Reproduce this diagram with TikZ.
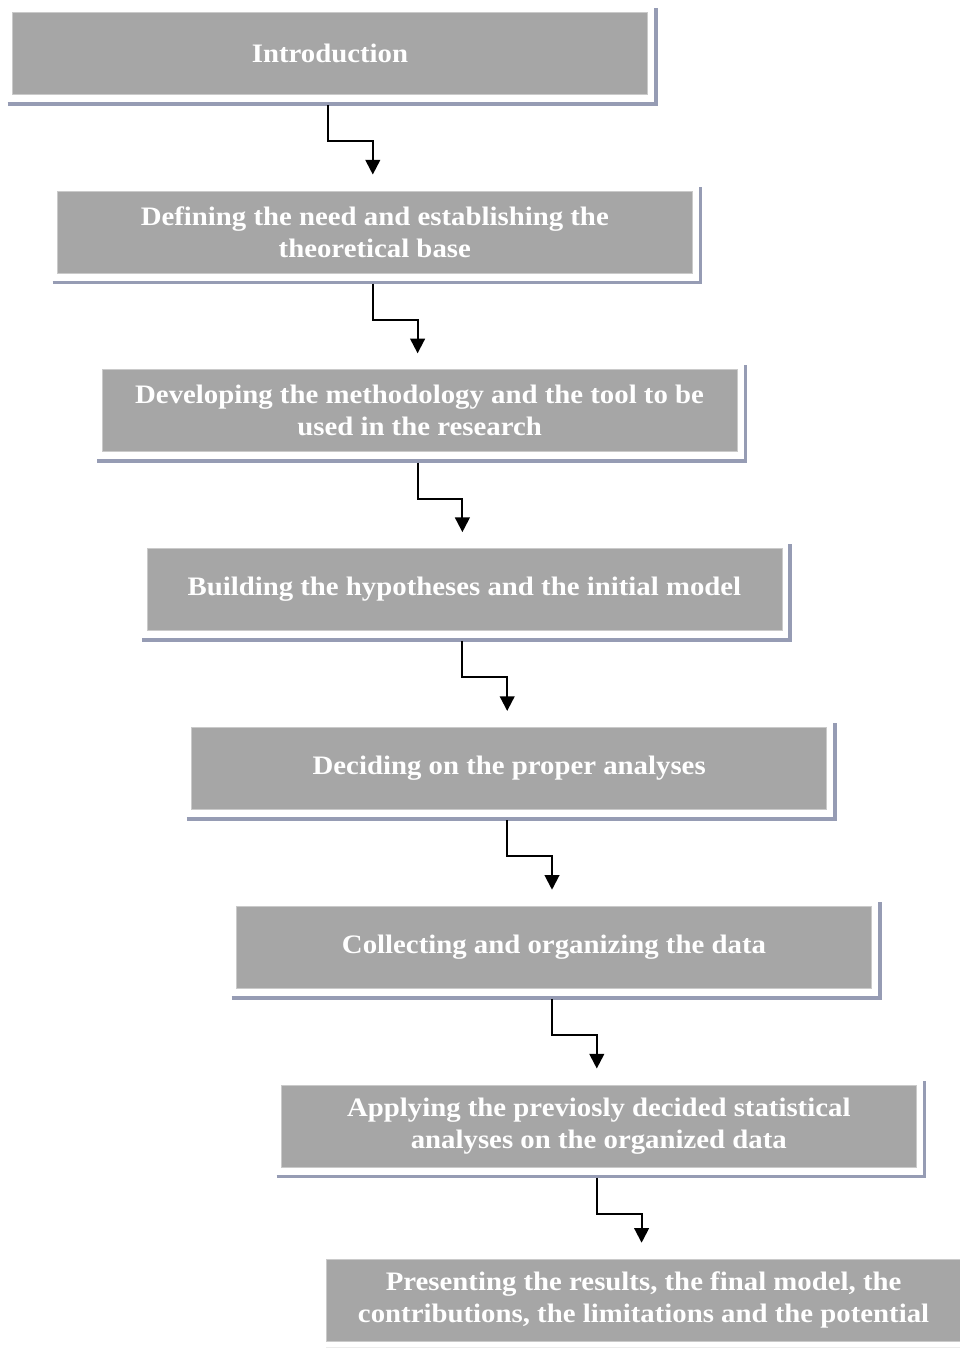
\documentclass[tikz,border=0pt]{standalone}
\usepackage{fontspec}
\setmainfont{Liberation Serif}[FakeStretch=1.08]
\usetikzlibrary{arrows.meta}
\definecolor{boxgray}{HTML}{A6A6A6}
\definecolor{shadowblue}{HTML}{969CB4}
\begin{document}
\begin{tikzpicture}[x=0.75pt,y=-0.75pt,
  stepbox/.style={fill=boxgray, draw=boxgray!60!white, line width=0.4pt,
    minimum width=476.25pt, minimum height=61.5pt, inner sep=0pt,
    align=center, text=white, font=\bfseries\fontsize{20}{24}\selectfont},
  shade/.style={draw=shadowblue, line width=2.8pt},
  link/.style={draw=black, line width=1.5pt,
    -{Triangle[width=11pt,length=11pt]}}]
\useasboundingbox (0,0) rectangle (960,1349);
\clip (0,0) rectangle (960,1349);

% steps of the research process
\node[stepbox] (s1) at (330,53)    {Introduction};
\node[stepbox] (s2) at (374.8,231.8)  {Defining the need and establishing the\\theoretical base};
\node[stepbox] (s3) at (419.6,410.6)  {Developing the methodology and the tool to be\\used in the research};
\node[stepbox] (s4) at (464.4,589.4)  {Building the hypotheses and the initial model};
\node[stepbox] (s5) at (509.2,768.2)  {Deciding on the proper analyses};
\node[stepbox] (s6) at (554,947)      {Collecting and organizing the data};
\node[stepbox] (s7) at (598.8,1125.8) {Applying the previosly decided statistical\\analyses on the organized data};
\node[stepbox] (s8) at (643.6,1300)   {Presenting the results, the final model, the\\contributions, the limitations and the potential};

% drop-shadow frames on the right and bottom of each box
\foreach \n in {s1,s2,s3,s4,s5,s6,s7}{
  \draw[shade] ([xshift=-3.4pt,yshift=-7.1pt]\n.south west)
     -| ([xshift=6pt,yshift=3pt]\n.north east);
}
\draw[draw=gray!15, line width=1pt] ([yshift=-4.5pt]s8.south west) -- ([yshift=-4.5pt]s8.south east);

% elbow connectors between consecutive steps
\foreach \a/\b in {s1/s2,s2/s3,s3/s4,s4/s5,s5/s6,s6/s7,s7/s8}{
  \draw[link] ([xshift=-1.5pt,yshift=-8pt]\a.south) -- ++(0,36) -| ([xshift=-1.5pt,yshift=12pt]\b.north);
}
\end{tikzpicture}
\end{document}
